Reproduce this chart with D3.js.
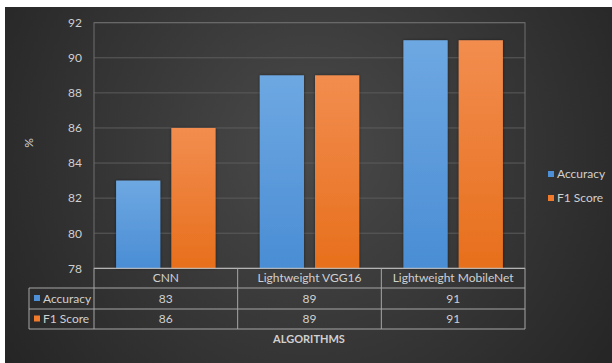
<!DOCTYPE html>
<html>
<head>
<meta charset="utf-8">
<title>Algorithms chart</title>
<script src="https://cdn.jsdelivr.net/npm/d3@7"></script>
<style>
  body { margin: 0; background: #fff; }
  text { font-family: Lato, "Open Sans", sans-serif; }
</style>
</head>
<body>
<script>
  var categories = ["CNN", "Lightweight VGG16", "Lightweight MobileNet"];
  var seriesNames = ["Accuracy", "F1 Score"];
  var accuracy = [83, 89, 91];
  var f1Score = [86, 89, 91];
  var yTicks = [78, 80, 82, 84, 86, 88, 90, 92];

  var series = [accuracy, f1Score];
  var colors = [["#6ea8e2", "#4a8dd4"], ["#f28d4f", "#e76f1c"]];
  var keyColors = ["#4d90d8", "#ef7a2c"];

  var width = 612, height = 363;
  var plotL = 94, plotR = 525, plotT = 22.7, plotB = 268.3;

  var svg = d3.select("body").append("svg")
      .attr("width", width)
      .attr("height", height);

  var defs = svg.append("defs");
  var bg = defs.append("radialGradient").attr("id", "bg")
      .attr("gradientUnits", "userSpaceOnUse")
      .attr("cx", 310).attr("cy", 150).attr("r", 380);
  bg.append("stop").attr("offset", "0").attr("stop-color", "#4a4a4a");
  bg.append("stop").attr("offset", "1").attr("stop-color", "#242424");

  colors.forEach(function(c, i) {
    var g = defs.append("linearGradient").attr("id", "bar" + i)
        .attr("x1", 0).attr("y1", 0).attr("x2", 0).attr("y2", 1);
    g.append("stop").attr("offset", "0").attr("stop-color", c[0]);
    g.append("stop").attr("offset", "1").attr("stop-color", c[1]);
  });
  var sh = defs.append("filter").attr("id", "shadow")
      .attr("x", "-20%").attr("y", "-10%").attr("width", "140%").attr("height", "120%");
  sh.append("feDropShadow").attr("dx", 0).attr("dy", 0).attr("stdDeviation", 1.5)
      .attr("flood-color", "#000").attr("flood-opacity", 0.5);

  svg.append("rect").attr("x", 5).attr("y", 7)
      .attr("width", width - 5).attr("height", height - 7)
      .attr("fill", "url(#bg)");

  var x = d3.scaleBand().domain(categories).range([plotL, plotR]).paddingInner(0).paddingOuter(0);
  var xs = d3.scaleBand().domain(seriesNames).range([0, x.bandwidth()])
      .paddingInner(0.2).paddingOuter(0.4);
  var y = d3.scaleLinear().domain([78, 92]).range([plotB, plotT]);

  // gridlines
  svg.append("g").selectAll("line").data(yTicks.slice(1)).join("line")
      .attr("x1", plotL).attr("x2", plotR)
      .attr("y1", function(d) { return y(d); }).attr("y2", function(d) { return y(d); })
      .attr("stroke", "#5c5c5c").attr("stroke-width", 1);

  // plot border
  svg.append("rect").attr("x", plotL).attr("y", plotT)
      .attr("width", plotR - plotL).attr("height", plotB - plotT)
      .attr("fill", "none").attr("stroke", "#6e6e6e");

  // bars
  var groups = svg.append("g").selectAll("g").data(categories).join("g")
      .attr("transform", function(d) { return "translate(" + x(d) + ",0)"; });
  groups.selectAll("rect")
      .data(function(d, i) { return series.map(function(s, k) { return { name: seriesNames[k], v: s[i], k: k }; }); })
      .join("rect")
      .attr("x", function(d) { return xs(d.name); })
      .attr("width", xs.bandwidth())
      .attr("y", function(d) { return y(d.v); })
      .attr("height", function(d) { return plotB - y(d.v); })
      .attr("fill", function(d) { return "url(#bar" + d.k + ")"; })
      .attr("filter", "url(#shadow)");

  // y axis
  var yAxis = svg.append("g").attr("transform", "translate(" + plotL + ",0)")
      .call(d3.axisLeft(y).tickValues(yTicks).tickSize(0).tickPadding(12));
  yAxis.select(".domain").remove();
  yAxis.selectAll("text").attr("fill", "#d0d0d0").style("font-size", "12px")
      .style("font-family", "Lato, 'Open Sans', sans-serif");

  svg.append("text").attr("transform", "translate(33,143) rotate(-90)")
      .attr("text-anchor", "middle").attr("fill", "#d0d0d0")
      .style("font-size", "12px").text("%");

  // data table
  var rowY = [plotB, 288, 309, 329];
  var lineColor = "#a6a6a6";
  var table = svg.append("g");
  table.append("line").attr("x1", plotL).attr("x2", plotR).attr("y1", rowY[0]).attr("y2", rowY[0])
      .attr("stroke", "#c8c8c8");
  [1, 2, 3].forEach(function(r) {
    table.append("line").attr("x1", 29).attr("x2", plotR)
        .attr("y1", rowY[r]).attr("y2", rowY[r]).attr("stroke", lineColor);
  });
  table.append("line").attr("x1", 29).attr("x2", 29).attr("y1", rowY[1]).attr("y2", rowY[3])
      .attr("stroke", lineColor);
  x.domain().forEach(function(c) {
    table.append("line").attr("x1", x(c)).attr("x2", x(c)).attr("y1", rowY[0]).attr("y2", rowY[3])
        .attr("stroke", lineColor);
  });
  table.append("line").attr("x1", plotR).attr("x2", plotR).attr("y1", rowY[0]).attr("y2", rowY[3])
      .attr("stroke", lineColor);

  table.selectAll("text.cat").data(categories).join("text").attr("class", "cat")
      .attr("x", function(d) { return x(d) + x.bandwidth() / 2; })
      .attr("y", (rowY[0] + rowY[1]) / 2 + 4)
      .attr("text-anchor", "middle").attr("fill", "#d0d0d0").style("font-size", "12px")
      .text(function(d) { return d; });

  series.forEach(function(s, k) {
    var cy = (rowY[k + 1] + rowY[k + 2]) / 2;
    table.append("rect").attr("x", 34).attr("y", cy - 3.5).attr("width", 6).attr("height", 6)
        .attr("fill", keyColors[k]);
    table.append("text").attr("x", 43).attr("y", cy + 4).attr("fill", "#d0d0d0")
        .style("font-size", "12px").text(seriesNames[k]);
    table.selectAll("text.v" + k).data(s).join("text").attr("class", "v" + k)
        .attr("x", function(d, i) { return x(categories[i]) + x.bandwidth() / 2; })
        .attr("y", cy + 4).attr("text-anchor", "middle").attr("fill", "#d0d0d0")
        .style("font-size", "12px").text(function(d) { return d; });
  });

  svg.append("text").attr("x", 309).attr("y", 343).attr("text-anchor", "middle")
      .attr("fill", "#d0d0d0").style("font-size", "11px").style("font-weight", "bold")
      .text("ALGORITHMS");

  // legend
  var legend = svg.append("g").selectAll("g").data(seriesNames).join("g")
      .attr("transform", function(d, i) { return "translate(548," + (174 + i * 24) + ")"; });
  legend.append("rect").attr("x", 0).attr("y", -3).attr("width", 6).attr("height", 6)
      .attr("fill", function(d, i) { return keyColors[i]; });
  legend.append("text").attr("x", 9).attr("y", 4).attr("fill", "#d0d0d0")
      .style("font-size", "12px").text(function(d) { return d; });
</script>
</body>
</html>
